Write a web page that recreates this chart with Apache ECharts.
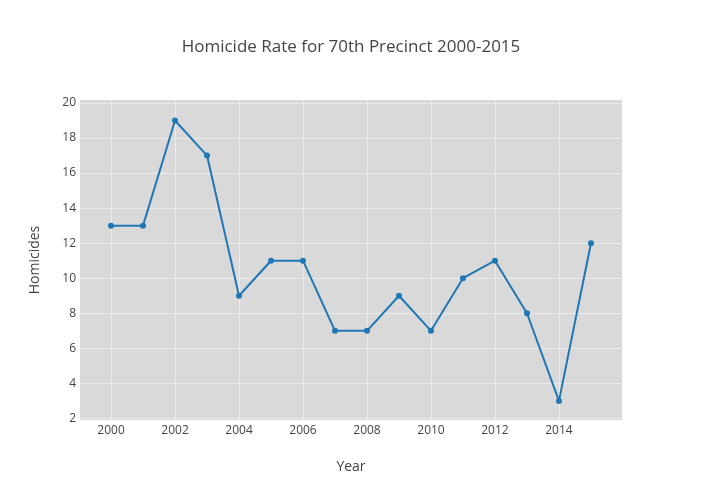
<!DOCTYPE html>
<html>
<head>
<meta charset="utf-8">
<script src="https://cdn.jsdelivr.net/npm/echarts@6/dist/echarts.min.js"></script>
<style>html,body{margin:0;padding:0;background:#fff}#c{width:702px;height:500px}</style>
</head>
<body>
<div id="c"></div>
<script>
var years = [2000,2001,2002,2003,2004,2005,2006,2007,2008,2009,2010,2011,2012,2013,2014,2015];
var homicides = [13,13,19,17,9,11,11,7,7,9,7,10,11,8,3,12];
var xTicks = [2000,2002,2004,2006,2008,2010,2012,2014];
var yTicks = [2,4,6,8,10,12,14,16,18,20];

var font = '"Open Sans", "DejaVu Sans", sans-serif';
var chart = echarts.init(document.getElementById('c'), null, {renderer: 'canvas'});
chart.setOption({
  animation: false,
  backgroundColor: '#fff',
  title: {
    text: 'Homicide Rate for 70th Precinct 2000-2015',
    left: 'center', top: 34,
    textStyle: {fontFamily: font, fontSize: 17, fontWeight: 'normal', color: '#444'}
  },
  grid: {left: 80, right: 80, top: 100, bottom: 80, show: true, backgroundColor: '#d9d9d9', borderWidth: 0},
  xAxis: {
    type: 'value', min: 1999.03, max: 2015.97,
    name: 'Year', nameLocation: 'middle', nameGap: 40,
    nameTextStyle: {fontFamily: font, fontSize: 14, color: '#444'},
    axisLine: {show: false},
    axisTick: {show: false, customValues: xTicks},
    axisLabel: {customValues: xTicks, fontFamily: font, fontSize: 12, color: '#444', margin: 5,
      formatter: function (v) { return String(v); }},
    splitLine: {show: true, lineStyle: {color: '#ebebeb', width: 1}}
  },
  yAxis: {
    type: 'value', min: 1.91, max: 20.17,
    name: 'Homicides', nameLocation: 'middle', nameGap: 38,
    nameTextStyle: {fontFamily: font, fontSize: 14, color: '#444'},
    axisLine: {show: false},
    axisTick: {show: false, customValues: yTicks},
    axisLabel: {customValues: yTicks, fontFamily: font, fontSize: 12, color: '#444', margin: 4,
      padding: [4, 0, 0, 0], formatter: function (v) { return String(v); }},
    splitLine: {show: true, lineStyle: {color: '#ebebeb', width: 1}}
  },
  series: [{
    type: 'line',
    data: years.map(function (y, i) { return [y, homicides[i]]; }),
    symbol: 'circle', symbolSize: 6,
    lineStyle: {color: '#1f77b4', width: 2},
    itemStyle: {color: '#1f77b4'}
  }]
});
</script>
</body>
</html>
